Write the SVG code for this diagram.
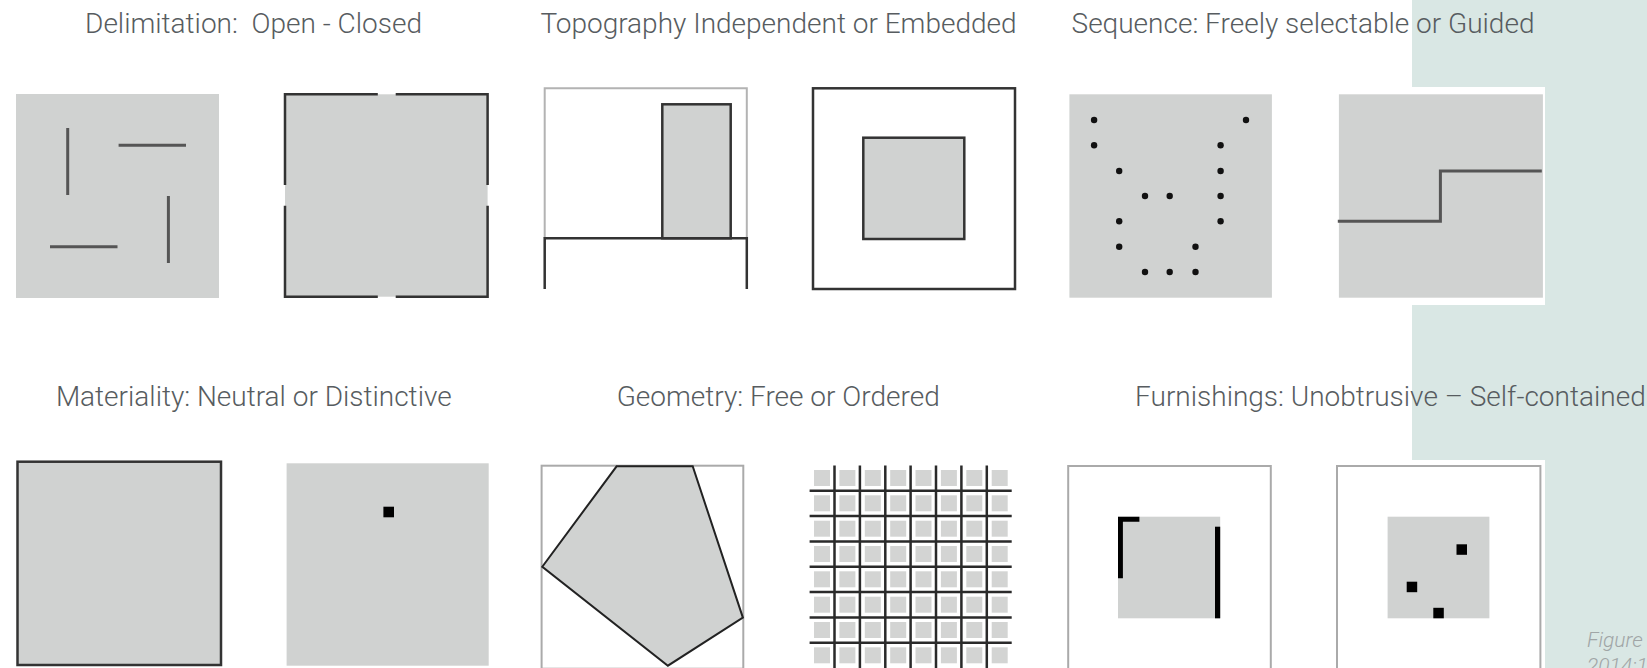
<svg xmlns="http://www.w3.org/2000/svg" width="1647" height="668" viewBox="0 0 1647 668">
<style>
.title{font-family:Roboto,"Liberation Sans",sans-serif;font-weight:300;font-size:28px;fill:#575c60;white-space:pre}
.cap{font-family:Roboto,"Liberation Sans",sans-serif;font-weight:300;font-style:italic;font-size:21px;fill:#a0a5a6}
.fill{fill:#d0d2d1}
.dark{stroke:#333;stroke-width:2.5;fill:none}
.darkf{stroke:#333;stroke-width:2.5;fill:#d0d2d1}
.wall{stroke:#555;stroke-width:3;fill:none}
.light{stroke:#aaa;stroke-width:2;fill:#fff}
.dot{fill:#111}
.blk{fill:#000}
.gsq{fill:#d3d4d3}
.grid{stroke:#2a2a2a;stroke-width:2.5;fill:none}
</style>
<rect x="0" y="0" width="1647" height="668" fill="#fff"/>
<g id="background">
<rect x="1412" y="0" width="235" height="668" fill="#d9e7e4"/>
<rect x="1412" y="87" width="133" height="218" fill="#fff"/>
<rect x="1412" y="460" width="133" height="208" fill="#fff"/>
</g>
<g id="titles">
<text class="title" x="253.5" y="33" text-anchor="middle">Delimitation:  Open - Closed</text>
<text class="title" x="778.5" y="33" text-anchor="middle">Topography Independent or Embedded</text>
<text class="title" x="1303" y="33" text-anchor="middle">Sequence: Freely selectable or Guided</text>
<text class="title" x="253.8" y="406" text-anchor="middle">Materiality: Neutral or Distinctive</text>
<text class="title" x="778.2" y="406" text-anchor="middle">Geometry: Free or Ordered</text>
<text class="title" x="1390.4" y="406" text-anchor="middle">Furnishings: Unobtrusive – Self-contained</text>
</g>
<g id="delim-open">
<rect class="fill" x="16" y="94" width="203" height="204"/>
<line class="wall" x1="67.7" y1="128" x2="67.7" y2="195"/>
<line class="wall" x1="118.6" y1="145.3" x2="186" y2="145.3"/>
<line class="wall" x1="168.4" y1="196" x2="168.4" y2="263"/>
<line class="wall" x1="50" y1="246.7" x2="117.5" y2="246.7"/>
</g>
<g id="delim-closed">
<rect class="fill" x="285" y="94.3" width="202.6" height="202.4"/>
<path class="dark" d="M377.8 94.3 H285 V185 M285 205.7 V296.7 H377.8 M395.7 296.7 H487.6 V205.7 M487.6 185 V94.3 H395.7"/>
</g>
<g id="topo-independent">
<path d="M544.7 238.3 V88.3 H746.8 V238.3" stroke="#b3b3b3" stroke-width="2" fill="none"/>
<rect class="darkf" x="662.3" y="104.3" width="68.4" height="134"/>
<path class="dark" d="M544.7 289 V238.3 H746.8 V289"/>
</g>
<g id="topo-embedded">
<rect class="dark" x="813" y="88.3" width="202" height="200.7"/>
<rect class="darkf" x="863.3" y="137.7" width="101" height="101.3"/>
</g>
<g id="seq-free">
<rect class="fill" x="1069.4" y="94.3" width="202.5" height="203.4"/>
<circle class="dot" cx="1094.1" cy="120" r="3.2"/>
<circle class="dot" cx="1246" cy="120" r="3.2"/>
<circle class="dot" cx="1094.1" cy="145.3" r="3.2"/>
<circle class="dot" cx="1220.6" cy="145.3" r="3.2"/>
<circle class="dot" cx="1119.2" cy="171" r="3.2"/>
<circle class="dot" cx="1220.6" cy="171" r="3.2"/>
<circle class="dot" cx="1145" cy="196" r="3.2"/>
<circle class="dot" cx="1169.7" cy="196" r="3.2"/>
<circle class="dot" cx="1220.6" cy="196" r="3.2"/>
<circle class="dot" cx="1119.2" cy="221.3" r="3.2"/>
<circle class="dot" cx="1220.6" cy="221.3" r="3.2"/>
<circle class="dot" cx="1119.2" cy="246.7" r="3.2"/>
<circle class="dot" cx="1195.5" cy="246.7" r="3.2"/>
<circle class="dot" cx="1145" cy="272" r="3.2"/>
<circle class="dot" cx="1169.7" cy="272" r="3.2"/>
<circle class="dot" cx="1195.5" cy="272" r="3.2"/>
</g>
<g id="seq-guided">
<rect class="fill" x="1338.9" y="94.3" width="204" height="203.4"/>
<path class="wall" d="M1337.8 221.3 H1440.4 V171 H1541.8"/>
</g>
<g id="mat-neutral">
<rect class="darkf" x="17.5" y="461.7" width="203.5" height="203.3"/>
</g>
<g id="mat-distinctive">
<rect class="fill" x="286.6" y="463.3" width="202.1" height="202.4"/>
<rect class="blk" x="383.4" y="506.7" width="10.6" height="10.6"/>
</g>
<g id="geo-free">
<rect class="light" x="541.6" y="465.7" width="201.7" height="203"/>
<polygon points="616.6,466.3 692.7,466.3 742.9,617.7 667.9,665.7 542.3,566.7" fill="#d0d2d1" stroke="#222" stroke-width="2"/>
</g>
<g id="geo-ordered">
<g class="gsq">
<rect x="814" y="470" width="16" height="16"/><rect x="839.4" y="470" width="16" height="16"/><rect x="864.8" y="470" width="16" height="16"/><rect x="890.2" y="470" width="16" height="16"/><rect x="915.5" y="470" width="16" height="16"/><rect x="940.9" y="470" width="16" height="16"/><rect x="966.3" y="470" width="16" height="16"/><rect x="991.7" y="470" width="16" height="16"/>
<rect x="814" y="495.3" width="16" height="16"/><rect x="839.4" y="495.3" width="16" height="16"/><rect x="864.8" y="495.3" width="16" height="16"/><rect x="890.2" y="495.3" width="16" height="16"/><rect x="915.5" y="495.3" width="16" height="16"/><rect x="940.9" y="495.3" width="16" height="16"/><rect x="966.3" y="495.3" width="16" height="16"/><rect x="991.7" y="495.3" width="16" height="16"/>
<rect x="814" y="520.7" width="16" height="16"/><rect x="839.4" y="520.7" width="16" height="16"/><rect x="864.8" y="520.7" width="16" height="16"/><rect x="890.2" y="520.7" width="16" height="16"/><rect x="915.5" y="520.7" width="16" height="16"/><rect x="940.9" y="520.7" width="16" height="16"/><rect x="966.3" y="520.7" width="16" height="16"/><rect x="991.7" y="520.7" width="16" height="16"/>
<rect x="814" y="546" width="16" height="16"/><rect x="839.4" y="546" width="16" height="16"/><rect x="864.8" y="546" width="16" height="16"/><rect x="890.2" y="546" width="16" height="16"/><rect x="915.5" y="546" width="16" height="16"/><rect x="940.9" y="546" width="16" height="16"/><rect x="966.3" y="546" width="16" height="16"/><rect x="991.7" y="546" width="16" height="16"/>
<rect x="814" y="571.3" width="16" height="16"/><rect x="839.4" y="571.3" width="16" height="16"/><rect x="864.8" y="571.3" width="16" height="16"/><rect x="890.2" y="571.3" width="16" height="16"/><rect x="915.5" y="571.3" width="16" height="16"/><rect x="940.9" y="571.3" width="16" height="16"/><rect x="966.3" y="571.3" width="16" height="16"/><rect x="991.7" y="571.3" width="16" height="16"/>
<rect x="814" y="596.7" width="16" height="16"/><rect x="839.4" y="596.7" width="16" height="16"/><rect x="864.8" y="596.7" width="16" height="16"/><rect x="890.2" y="596.7" width="16" height="16"/><rect x="915.5" y="596.7" width="16" height="16"/><rect x="940.9" y="596.7" width="16" height="16"/><rect x="966.3" y="596.7" width="16" height="16"/><rect x="991.7" y="596.7" width="16" height="16"/>
<rect x="814" y="622" width="16" height="16"/><rect x="839.4" y="622" width="16" height="16"/><rect x="864.8" y="622" width="16" height="16"/><rect x="890.2" y="622" width="16" height="16"/><rect x="915.5" y="622" width="16" height="16"/><rect x="940.9" y="622" width="16" height="16"/><rect x="966.3" y="622" width="16" height="16"/><rect x="991.7" y="622" width="16" height="16"/>
<rect x="814" y="647.3" width="16" height="16"/><rect x="839.4" y="647.3" width="16" height="16"/><rect x="864.8" y="647.3" width="16" height="16"/><rect x="890.2" y="647.3" width="16" height="16"/><rect x="915.5" y="647.3" width="16" height="16"/><rect x="940.9" y="647.3" width="16" height="16"/><rect x="966.3" y="647.3" width="16" height="16"/><rect x="991.7" y="647.3" width="16" height="16"/>
</g>
<path class="grid" d="M834.5 465.5 V668 M859.9 465.5 V668 M885.3 465.5 V668 M910.6 465.5 V668 M936 465.5 V668 M961.4 465.5 V668 M986.8 465.5 V668 M809.6 490.7 H1011.7 M809.6 516 H1011.7 M809.6 541.4 H1011.7 M809.6 566.7 H1011.7 M809.6 592 H1011.7 M809.6 617.4 H1011.7 M809.6 642.7 H1011.7"/>
</g>
<g id="furn-unobtrusive">
<rect class="light" x="1068.2" y="466" width="202.6" height="204"/>
<rect class="fill" x="1118" y="516.7" width="102.2" height="101.6"/>
<path class="blk" d="M1118 516.7 H1139.4 V521.7 H1122.9 V578.3 H1118 Z"/>
<rect class="blk" x="1215" y="526.7" width="5.2" height="91.6"/>
</g>
<g id="furn-selfcontained">
<rect class="light" x="1337" y="466" width="203.4" height="204"/>
<rect class="fill" x="1387.6" y="516.7" width="101.8" height="101.6"/>
<rect class="blk" x="1456.5" y="544.3" width="10.5" height="10.5"/>
<rect class="blk" x="1406.7" y="581.7" width="10.5" height="10.5"/>
<rect class="blk" x="1433.3" y="607.8" width="10.5" height="10.5"/>
</g>
<g id="caption">
<text class="cap" x="1587" y="647">Figure</text>
<text class="cap" x="1587" y="673">2014:1</text>
</g>
</svg>
